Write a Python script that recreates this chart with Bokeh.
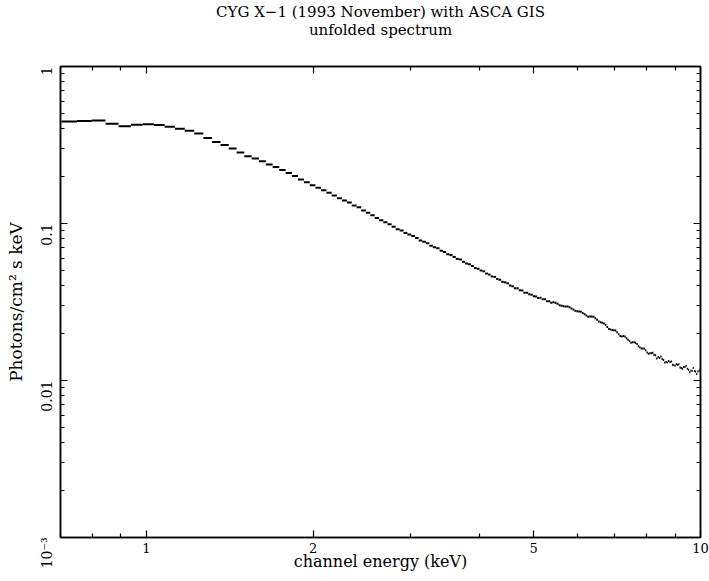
import math
from bokeh.plotting import figure
from bokeh.models import (FixedTicker, LogAxis, Range1d, ColumnDataSource,
                          CustomJSTickFormatter, Title)
from bokeh.embed import file_html
from bokeh.resources import INLINE

# ---- data ----
# channel bin edges (keV)
energy_edges = [
    0.703, 0.750, 0.797, 0.844, 0.891, 0.938, 0.985, 1.032, 1.079, 1.126,
    1.173, 1.220, 1.267, 1.314, 1.361, 1.408, 1.455, 1.502, 1.549, 1.596,
    1.643, 1.690, 1.737, 1.784, 1.831, 1.878, 1.925, 1.972, 2.019, 2.066,
    2.113, 2.160, 2.207, 2.254, 2.301, 2.348, 2.395, 2.442, 2.489, 2.536,
    2.583, 2.630, 2.677, 2.724, 2.771, 2.818, 2.865, 2.912, 2.959, 3.006,
    3.053, 3.100, 3.147, 3.194, 3.241, 3.288, 3.335, 3.382, 3.429, 3.476,
    3.523, 3.570, 3.617, 3.664, 3.711, 3.758, 3.805, 3.852, 3.899, 3.946,
    3.993, 4.040, 4.087, 4.134, 4.181, 4.228, 4.275, 4.322, 4.369, 4.416,
    4.463, 4.510, 4.557, 4.604, 4.651, 4.698, 4.745, 4.792, 4.839, 4.886,
    4.933, 4.980, 5.027, 5.074, 5.121, 5.168, 5.215, 5.262, 5.309, 5.356,
    5.403, 5.450, 5.497, 5.544, 5.591, 5.638, 5.685, 5.732, 5.779, 5.826,
    5.873, 5.920, 5.967, 6.014, 6.061, 6.108, 6.155, 6.202, 6.249, 6.296,
    6.343, 6.390, 6.437, 6.484, 6.531, 6.578, 6.625, 6.672, 6.719, 6.766,
    6.813, 6.860, 6.907, 6.954, 7.001, 7.048, 7.095, 7.142, 7.189, 7.236,
    7.283, 7.330, 7.377, 7.424, 7.471, 7.518, 7.565, 7.612, 7.659, 7.706,
    7.753, 7.800, 7.847, 7.894, 7.941, 7.988, 8.035, 8.082, 8.129, 8.176,
    8.223, 8.270, 8.317, 8.364, 8.411, 8.458, 8.505, 8.552, 8.599, 8.646,
    8.693, 8.740, 8.787, 8.834, 8.881, 8.928, 8.975, 9.022, 9.069, 9.116,
    9.163, 9.210, 9.257, 9.304, 9.351, 9.398, 9.445, 9.492, 9.539, 9.586,
    9.633, 9.680, 9.727, 9.774, 9.821, 9.868, 9.915, 9.962, 10.009,
]

# unfolded flux per bin (photons / cm^2 s keV)
flux = [
    0.447, 0.450, 0.453, 0.432, 0.416, 0.425, 0.428, 0.424, 0.414, 0.402,
    0.390, 0.374, 0.351, 0.331, 0.316, 0.300, 0.283, 0.268, 0.259, 0.249,
    0.238, 0.229, 0.219, 0.210, 0.201, 0.191, 0.183, 0.175, 0.169, 0.163,
    0.157, 0.151, 0.145, 0.140, 0.136, 0.130, 0.127, 0.121, 0.117, 0.113,
    0.1085, 0.105, 0.102, 0.099, 0.0952, 0.092,
    0.0904, 0.0871, 0.0850, 0.0833, 0.0807, 0.0779, 0.0765, 0.0748, 0.0722, 0.0706,
    0.0695, 0.0671, 0.0658, 0.0637, 0.0629, 0.0612, 0.0595, 0.0590, 0.0570, 0.0556,
    0.0550, 0.0536, 0.0520, 0.0515, 0.0502, 0.0496, 0.0480, 0.0473, 0.0460, 0.0457,
    0.0444, 0.0438, 0.0425, 0.0422, 0.0416, 0.0403, 0.0399, 0.0387, 0.0387, 0.0376,
    0.0375, 0.0362, 0.0362, 0.0354,
    0.0352, 0.0344, 0.0343, 0.0335, 0.0336, 0.0329, 0.0329, 0.0320, 0.0320, 0.0313,
    0.0315, 0.0313, 0.0308, 0.0302, 0.0299, 0.0297, 0.0296, 0.0296, 0.0293, 0.0288,
    0.0283, 0.0278, 0.0276, 0.0275, 0.0274, 0.0269, 0.0264, 0.0259, 0.0255, 0.0256,
    0.0256, 0.0255, 0.0249, 0.0244, 0.0238, 0.0235,
    0.0233, 0.0231, 0.0226, 0.0219, 0.0213, 0.0211, 0.0210, 0.0209, 0.0208, 0.0203,
    0.0197, 0.0192, 0.0191, 0.0192, 0.0191, 0.0186, 0.0182, 0.0178, 0.0174, 0.0175,
    0.0175, 0.0174, 0.0171, 0.0165, 0.0162, 0.0160, 0.0160, 0.0160, 0.0156, 0.0151,
    0.0148, 0.0149, 0.0149, 0.0150, 0.0146,
    0.0145, 0.0138, 0.0141, 0.0139, 0.0142, 0.0137, 0.0135, 0.0130, 0.0131, 0.0130,
    0.0133, 0.0131, 0.0132, 0.0126, 0.0125, 0.0124, 0.0127, 0.0126, 0.0127, 0.0121,
    0.0120, 0.0119, 0.0122, 0.0122, 0.0124, 0.0119, 0.0117, 0.0113, 0.0116, 0.0115,
    0.0120, 0.0115, 0.0114, 0.0110, 0.0114, 0.0115, 0.0118,
]

x_major = [1, 2, 5, 10]
x_minor = [0.7, 0.8, 0.9, 3, 4, 6, 7, 8, 9]
y_major = [0.001, 0.01, 0.1, 1]
y_minor = [0.002, 0.003, 0.004, 0.005, 0.006, 0.007, 0.008, 0.009,
           0.02, 0.03, 0.04, 0.05, 0.06, 0.07, 0.08, 0.09,
           0.2, 0.3, 0.4, 0.5, 0.6, 0.7, 0.8, 0.9]
y_labels = {0.001: "10\u207b\u00b3", 0.01: "0.01", 0.1: "0.1", 1: "1"}
x_labels = {1: "1", 2: "2", 5: "5", 10: "10"}

title_main = "CYG X\u22121 (1993 November) with ASCA GIS"
title_sub = "unfolded spectrum"
x_title = "channel energy (keV)"
y_title = "Photons/cm\u00b2 s keV"

FONT = "DejaVu Serif"

n = min(len(flux), len(energy_edges) - 1)
src = ColumnDataSource(dict(lo=energy_edges[:n], hi=energy_edges[1:n + 1], f=flux[:n]))

p = figure(width=709, height=581, x_axis_type="log", y_axis_type="log",
           x_range=Range1d(0.7, 10), y_range=Range1d(1e-3, 1),
           output_backend="svg", toolbar_location=None, title=None,
           min_border_left=60, min_border_right=9, min_border_top=62,
           min_border_bottom=44)
p.background_fill_color = "white"
p.border_fill_color = "white"
p.outline_line_color = "black"
p.outline_line_width = 1.5
p.xgrid.visible = False
p.ygrid.visible = False

p.segment(x0="lo", x1="hi", y0="f", y1="f", source=src,
          line_color="black", line_width=2)

right_axis = LogAxis()
top_axis = LogAxis()
p.add_layout(right_axis, "right")
p.add_layout(top_axis, "above")

for ax in p.xaxis:
    ax.ticker = FixedTicker(ticks=x_major, minor_ticks=x_minor)
for ax in p.yaxis:
    ax.ticker = FixedTicker(ticks=y_major, minor_ticks=y_minor)

for ax in list(p.xaxis) + list(p.yaxis):
    ax.axis_line_color = "black"
    ax.axis_line_width = 1.5
    ax.major_tick_in = 7
    ax.major_tick_out = 0
    ax.minor_tick_in = 4
    ax.minor_tick_out = 0
    ax.major_tick_line_color = "black"
    ax.minor_tick_line_color = "black"
    ax.major_tick_line_width = 1.2
    ax.minor_tick_line_width = 1.2
    ax.major_label_text_font = FONT
    ax.major_label_text_color = "black"
    ax.major_label_text_font_size = "14px"
    ax.axis_label_text_font = FONT
    ax.axis_label_text_font_style = "normal"
    ax.axis_label_text_color = "black"

for ax in (right_axis, top_axis):
    ax.formatter = CustomJSTickFormatter(code="return '';")
    ax.major_label_text_font_size = "1px"
    ax.major_label_standoff = 0

# spacing between the frame and the two title lines
top_axis.axis_label = "\u00a0"
top_axis.axis_label_text_font_size = "1px"
top_axis.axis_label_standoff = 26

bottom = p.below[0]
bottom.axis_label = x_title
bottom.axis_label_text_font_size = "16px"
bottom.major_label_text_font_size = "13px"
bottom.major_label_standoff = 5
bottom.axis_label_standoff = -4
bottom.major_label_overrides = x_labels

left = p.left[0]
left.axis_label = y_title
left.axis_label_text_font_size = "17px"
left.major_label_overrides = y_labels
left.major_label_orientation = math.pi / 2
left.major_label_standoff = 14
left.axis_label_standoff = 2

t_sub = Title(text=title_sub, align="center", text_font=FONT,
              text_font_size="15px", text_font_style="normal",
              text_color="black", offset=6, standoff=-4)
t_main = Title(text=title_main, align="center", text_font=FONT,
               text_font_size="15px", text_font_style="normal",
               text_color="black", offset=1, standoff=0)
p.add_layout(t_sub, "above")
p.add_layout(t_main, "above")

open("out.html", "w").write(file_html(p, INLINE))
